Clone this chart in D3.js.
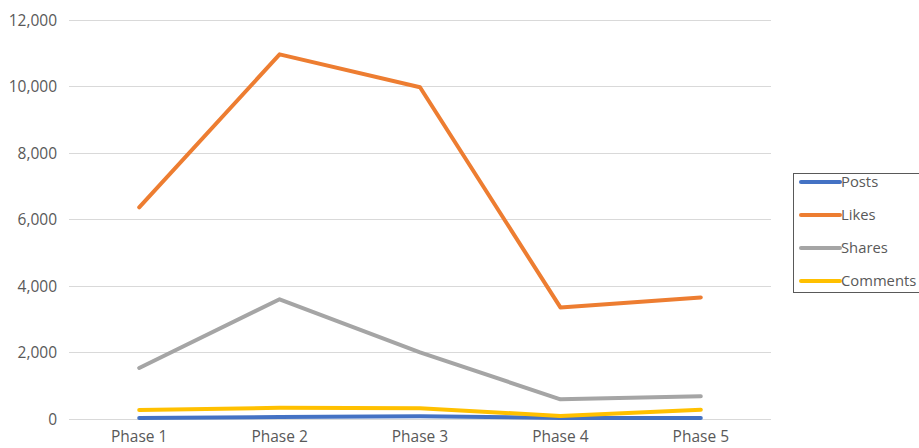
<!DOCTYPE html>
<html><head><meta charset="utf-8">
<script src="https://cdn.jsdelivr.net/npm/d3@7"></script>
<style>html,body{margin:0;padding:0;background:#fff;}svg{display:block;}</style>
</head><body>
<svg id="c" width="919" height="448"></svg>
<script>
const categories = ["Phase 1","Phase 2","Phase 3","Phase 4","Phase 5"];
const seriesNames = ["Posts","Likes","Shares","Comments"];
const posts = [25, 55, 75, 25, 25];
const likes = [6360, 10960, 9970, 3350, 3650];
const shares = [1530, 3595, 2000, 585, 680];
const comments = [265, 330, 315, 85, 275];
const yTicks = [0, 2000, 4000, 6000, 8000, 10000, 12000];
const colors = ["#4472C4","#ED7D31","#A5A5A5","#FFC000"];
const seriesValues = [posts, likes, shares, comments];

const svg = d3.select("#c");
const font = "'Open Sans', sans-serif";
const fs = 15.5;
const x = d3.scaleBand().domain(categories).range([69, 771]);
const y = d3.scaleLinear().domain([0, 12000]).range([418.8, 19.8]);

// gridlines
svg.append("g").selectAll("line").data(yTicks).join("line")
  .attr("x1", 69).attr("x2", 771)
  .attr("y1", d => Math.round(y(d)) + 0.5).attr("y2", d => Math.round(y(d)) + 0.5)
  .attr("stroke", "#d9d9d9").attr("stroke-width", 1);

// y axis labels
const yAxis = d3.axisLeft(y).tickValues(yTicks).tickFormat(d3.format(",")).tickSize(0).tickPadding(0);
const gy = svg.append("g").attr("transform", "translate(57,0)").call(yAxis);
gy.select(".domain").remove();
gy.selectAll("text").attr("font-family", font).attr("font-size", fs).attr("fill", "#595959").attr("dy", "0.36em");

// x axis labels
const xAxis = d3.axisBottom(x).tickSize(0).tickPadding(0);
const gx = svg.append("g").attr("transform", "translate(0,431)").call(xAxis);
gx.select(".domain").remove();
gx.selectAll("text").attr("font-family", font).attr("font-size", fs).attr("fill", "#595959").attr("dy", "0.71em");

// lines
const line = d3.line().x((d, i) => x(categories[i]) + x.bandwidth() / 2).y(d => y(d));
svg.append("g").selectAll("path").data(seriesValues).join("path")
  .attr("d", d => line(d))
  .attr("fill", "none")
  .attr("stroke", (d, i) => colors[i])
  .attr("stroke-width", 4)
  .attr("stroke-linejoin", "round")
  .attr("stroke-linecap", "round");

// legend
const lg = svg.append("g");
lg.append("rect").attr("x", 793.5).attr("y", 173.5).attr("width", 140).attr("height", 119)
  .attr("fill", "#fff").attr("stroke", "#595959").attr("stroke-width", 1);
const rows = lg.selectAll("g.item").data(seriesNames).join("g").attr("class", "item")
  .attr("transform", (d, i) => `translate(0,${182 + i * 33})`);
rows.append("line").attr("x1", 801).attr("x2", 840).attr("y1", 0).attr("y2", 0)
  .attr("stroke", (d, i) => colors[i]).attr("stroke-width", 4).attr("stroke-linecap", "round");
rows.append("text").attr("x", 841).attr("y", 0).attr("dy", "0.36em")
  .attr("font-family", font).attr("font-size", 14.8).attr("fill", "#595959").text(d => d);
</script>
</body></html>
